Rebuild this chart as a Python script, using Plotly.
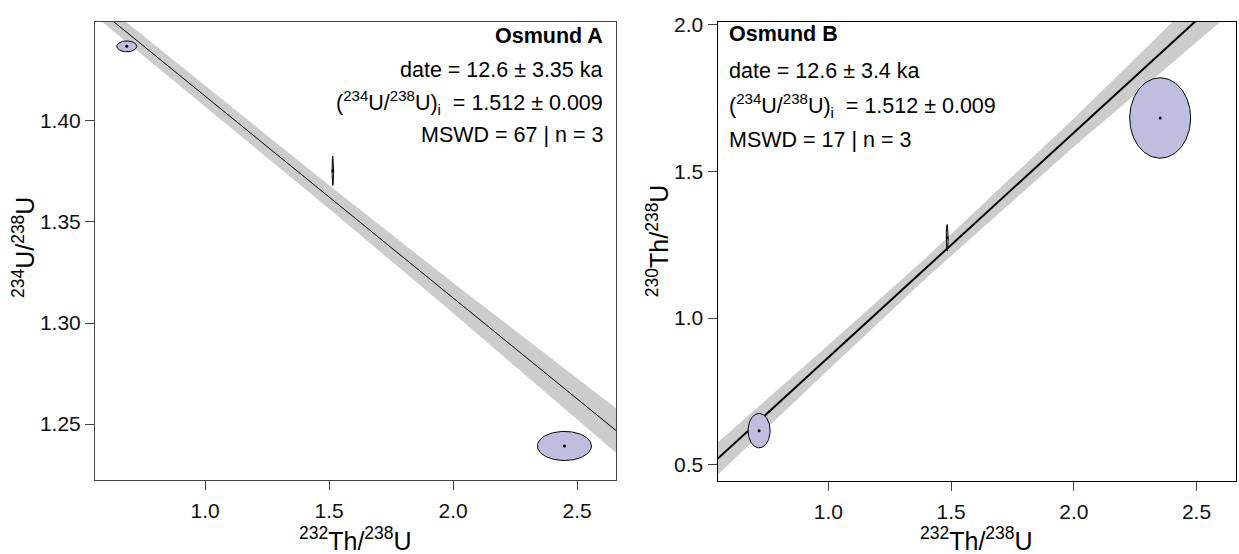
import numpy as np
import plotly.graph_objects as go

# ---------------- data ----------------
# Panel A : 234U/238U vs 232Th/238U
A_x = [0.684, 1.515, 2.449]
A_y = [1.4368, 1.3753, 1.2392]
A_sx = [0.040, 0.003, 0.109]     # ellipse semi-axes (x)
A_sy = [0.0027, 0.0073, 0.0072]  # ellipse semi-axes (y)
A_intercept = 1.512
A_slope = -0.0998
A_band_x = [0.556, 1.0, 1.5, 2.0, 2.657]
A_band_hw = [0.0047, 0.0050, 0.0058, 0.0075, 0.011]
A_xrange = [0.556, 2.657]
A_yrange = [1.2225, 1.4488]
A_xticks = [1.0, 1.5, 2.0, 2.5]
A_yticks = [1.25, 1.30, 1.35, 1.40]

# Panel B : 230Th/238U vs 232Th/238U
B_x = [0.7175, 1.484, 2.352]
B_y = [0.616, 1.274, 1.682]
B_sx = [0.045, 0.004, 0.124]
B_sy = [0.0587, 0.045, 0.137]
B_intercept = 0.100
B_slope = 0.766
B_band_x = [0.548, 1.0, 1.4, 2.0, 2.661]
B_band_hw = [0.055, 0.042, 0.035, 0.048, 0.083]
B_xrange = [0.548, 2.661]
B_yrange = [0.446, 2.009]
B_xticks = [1.0, 1.5, 2.0, 2.5]
B_yticks = [0.5, 1.0, 1.5, 2.0]

A_text = ["<b>Osmund A</b>", "date = 12.6 ± 3.35 ka",
          "(<sup>234</sup>U/<sup>238</sup>U)<sub>i</sub>  = 1.512 ± 0.009",
          "MSWD = 67 | n = 3"]
B_text = ["<b>Osmund B</b>", "date = 12.6 ± 3.4 ka",
          "(<sup>234</sup>U/<sup>238</sup>U)<sub>i</sub>  = 1.512 ± 0.009",
          "MSWD = 17 | n = 3"]

FONT = "Liberation Sans, Arial, Helvetica, sans-serif"
W, H = 1239, 554
ELL_FILL = "rgb(190,191,222)"
BAND = "rgb(204,204,204)"

fig = go.Figure()


def add_panel(xa, ya, xs, ys, sxs, sys, b0, b1, bx, bhw, xr, lw):
    bx = np.array(bx)
    bhw = np.array(bhw)
    c = b0 + b1 * bx
    fig.add_trace(go.Scatter(x=list(bx) + list(bx[::-1]),
                             y=list(c + bhw) + list((c - bhw)[::-1]),
                             fill="toself", fillcolor=BAND, mode="lines",
                             line=dict(width=0, color=BAND), hoverinfo="skip",
                             xaxis=xa, yaxis=ya, showlegend=False))
    lx = np.array(xr)
    fig.add_trace(go.Scatter(x=lx, y=b0 + b1 * lx, mode="lines",
                             line=dict(color="black", width=lw),
                             xaxis=xa, yaxis=ya, showlegend=False))
    t = np.linspace(0, 2 * np.pi, 121)
    for x, y, sx, sy in zip(xs, ys, sxs, sys):
        fig.add_trace(go.Scatter(x=x + sx * np.cos(t), y=y + sy * np.sin(t),
                                 fill="toself", fillcolor=ELL_FILL, mode="lines",
                                 line=dict(color="black", width=1),
                                 xaxis=xa, yaxis=ya, showlegend=False))
    fig.add_trace(go.Scatter(x=xs, y=ys, mode="markers",
                             marker=dict(color="black", size=3),
                             xaxis=xa, yaxis=ya, showlegend=False))


add_panel("x", "y", A_x, A_y, A_sx, A_sy, A_intercept, A_slope,
          A_band_x, A_band_hw, A_xrange, 1)
add_panel("x2", "y2", B_x, B_y, B_sx, B_sy, B_intercept, B_slope,
          B_band_x, B_band_hw, B_xrange, 2)

# pixel geometry
A_l, A_r, A_t, A_b = 95, 616, 13.3, 478.5
B_l, B_r, B_t, B_b = 717.5, 1236, 13.3, 479.3

axis_common = dict(showgrid=False, zeroline=False, ticks="outside",
                   ticklen=9, tickwidth=1, showline=True, mirror=True,
                   tickfont=dict(family=FONT, size=21, color="#111"))

fig.update_layout(
    width=W, height=H, margin=dict(l=0, r=0, t=0, b=0),
    plot_bgcolor="white", paper_bgcolor="white", showlegend=False,
    xaxis=dict(domain=[A_l / W, A_r / W], range=A_xrange, tickvals=A_xticks,
               tickformat=".1f", linecolor="#444", tickcolor="#444",
               anchor="y", ticklabelstandoff=3, **axis_common),
    yaxis=dict(domain=[1 - A_b / H, 1 - A_t / H], range=A_yrange,
               tickvals=A_yticks, tickformat=".2f", linecolor="#444",
               tickcolor="#444", anchor="x", **axis_common),
    xaxis2=dict(domain=[B_l / W, B_r / W], range=B_xrange, tickvals=B_xticks,
                tickformat=".1f", linecolor="black", tickcolor="#444",
                anchor="y2", ticklabelstandoff=3, **axis_common),
    yaxis2=dict(domain=[1 - B_b / H, 1 - B_t / H], range=B_yrange,
                tickvals=B_yticks, tickformat=".1f", linecolor="black",
                tickcolor="#444", anchor="x2", **axis_common),
)

ann = []
TF = dict(family=FONT, size=25, color="black")
ann.append(dict(text="<sup>232</sup>Th/<sup>238</sup>U", x=(A_l + A_r) / 2 / W,
                y=1 - 539 / H, xref="paper", yref="paper", showarrow=False,
                font=TF, xanchor="center", yanchor="middle"))
ann.append(dict(text="<sup>232</sup>Th/<sup>238</sup>U", x=(B_l + B_r) / 2 / W,
                y=1 - 539 / H, xref="paper", yref="paper", showarrow=False,
                font=TF, xanchor="center", yanchor="middle"))
ann.append(dict(text="<sup>234</sup>U/<sup>238</sup>U", x=24 / W,
                y=1 - 243 / H, xref="paper", yref="paper", showarrow=False,
                font=TF, textangle=-90, xanchor="center", yanchor="middle"))
ann.append(dict(text="<sup>230</sup>Th/<sup>238</sup>U", x=658 / W,
                y=1 - 236 / H, xref="paper", yref="paper", showarrow=False,
                font=TF, textangle=-90, xanchor="center", yanchor="middle"))

A_ty = [27, 62, 95, 128]
B_ty = [25, 63, 98, 133]
LF = dict(family=FONT, size=21.5, color="black")
for s, yy in zip(A_text, A_ty):
    ann.append(dict(text=s, x=605 / W, y=1 - yy / H, xref="paper", yref="paper",
                    showarrow=False, font=LF, xanchor="right", yanchor="middle"))
for s, yy in zip(B_text, B_ty):
    ann.append(dict(text=s, x=727 / W, y=1 - yy / H, xref="paper", yref="paper",
                    showarrow=False, font=LF, xanchor="left", yanchor="middle"))

fig.update_layout(annotations=ann)
fig.write_html("out.html", config={"displayModeBar": False},
               post_script="document.body.style.margin='0';"
                           "document.body.style.overflow='hidden';")
